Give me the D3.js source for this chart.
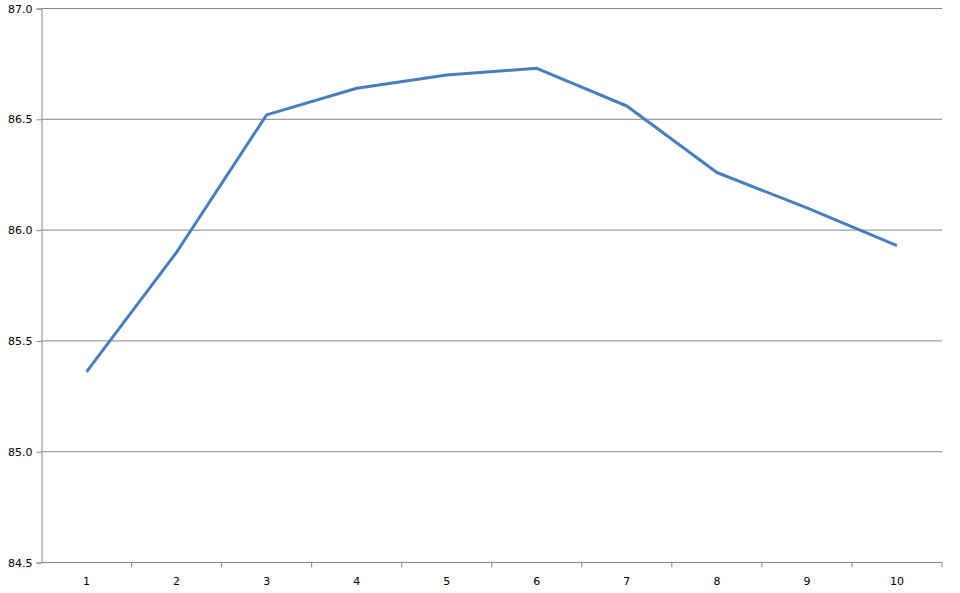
<!DOCTYPE html>
<html>
<head>
<meta charset="utf-8">
<script src="https://cdn.jsdelivr.net/npm/d3@7"></script>
<style>
  body { margin: 0; background: #fff; }
  text { font-family: "DejaVu Sans", Verdana, sans-serif; font-size: 11px; fill: #000; }
</style>
</head>
<body>
<script>
// data
const categories = ['1', '2', '3', '4', '5', '6', '7', '8', '9', '10'];
const values = [85.36, 85.90, 86.52, 86.64, 86.70, 86.73, 86.56, 86.26, 86.10, 85.93];
const yTicks = [84.5, 85.0, 85.5, 86.0, 86.5, 87.0];

const margin = { top: 8.5, right: 18, bottom: 30.5, left: 41.5 };
const width = 960 - margin.left - margin.right;
const height = 593 - margin.top - margin.bottom;

const svg = d3.select('body').append('svg')
  .attr('width', 960)
  .attr('height', 593);

const g = svg.append('g')
  .attr('transform', `translate(${margin.left},${margin.top})`);

const x = d3.scaleBand()
  .domain(categories)
  .range([0, width]);

const y = d3.scaleLinear()
  .domain([84.5, 87])
  .range([height, 0]);

// horizontal gridlines
g.selectAll('.grid')
  .data(yTicks)
  .enter().append('line')
  .attr('class', 'grid')
  .attr('x1', 0)
  .attr('x2', width)
  .attr('y1', d => y(d))
  .attr('y2', d => y(d))
  .attr('stroke', '#868686')
  .attr('stroke-width', 1);

// y axis
const yAxis = g.append('g')
  .call(d3.axisLeft(y).tickValues(yTicks).tickFormat(d3.format('.1f')).tickSize(5).tickPadding(4));
yAxis.select('.domain').attr('stroke', '#868686');
yAxis.selectAll('.tick line').attr('stroke', '#868686');
yAxis.selectAll('text').style('font-family', '"DejaVu Sans", Verdana, sans-serif').style('font-size', '11px');

// x axis, ticks at the band boundaries
const xAxis = g.append('g')
  .attr('transform', `translate(0,${height})`)
  .call(d3.axisBottom(x).tickSize(0).tickPadding(15));
xAxis.select('.domain').remove();
xAxis.selectAll('text').style('font-family', '"DejaVu Sans", Verdana, sans-serif').style('font-size', '11px');

const bounds = categories.map(c => x(c)).concat([width]).slice(1);
g.append('line')
  .attr('x1', 0).attr('x2', width)
  .attr('y1', height).attr('y2', height)
  .attr('stroke', '#868686');
g.selectAll('.xtick')
  .data(bounds)
  .enter().append('line')
  .attr('class', 'xtick')
  .attr('x1', d => d).attr('x2', d => d)
  .attr('y1', height).attr('y2', height + 5)
  .attr('stroke', '#868686');

// the series
const line = d3.line()
  .x((d, i) => x(categories[i]) + x.bandwidth() / 2)
  .y(d => y(d));

g.append('path')
  .datum(values)
  .attr('d', line)
  .attr('fill', 'none')
  .attr('stroke', '#4a7ebb')
  .attr('stroke-width', 3)
  .attr('stroke-linejoin', 'round');
</script>
</body>
</html>
